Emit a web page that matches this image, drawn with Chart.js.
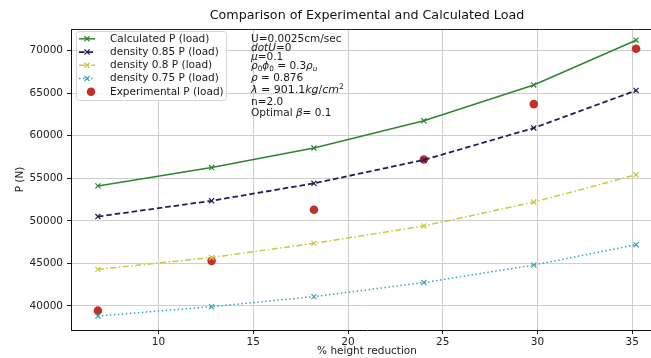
<!DOCTYPE html>
<html>
<head>
<meta charset="utf-8">
<script src="https://cdn.jsdelivr.net/npm/chart.js@4.4.1/dist/chart.umd.min.js"></script>
<style>
  html, body { margin: 0; padding: 0; background: #fff; overflow: hidden; width: 651px; height: 358px; }
  #wrap { position: absolute; left: 0; top: 0; width: 700px; height: 358px; }
</style>
</head>
<body>
<div id="wrap"><canvas id="c" width="700" height="358"></canvas></div>
<script>
// % height reduction of the specimen
const heightReduction = [6.8, 12.8, 18.2, 24.0, 29.8, 35.2];
// Load P (N)
const calculatedP   = [54100, 56250, 58550, 61750, 65950, 71200];
const density085P   = [50500, 52350, 54400, 57150, 60900, 65300];
const density080P   = [44300, 45700, 47350, 49400, 52200, 55400];
const density075P   = [38820, 39920, 41100, 42750, 44800, 47200];
const experimentalP = [39450, 45300, 51300, 57200, 63700, 70200];

const xTicks = [10, 15, 20, 25, 30, 35];
const yTicks = [40000, 45000, 50000, 55000, 60000, 65000, 70000];

const titleText = 'Comparison of Experimental and Calculated Load';
const xLabel = '% height reduction';
const yLabel = 'P (N)';

// process parameters printed beside the legend; each line is a list of text runs
const conditionLines = [
  [{t: 'U=0.0025cm/sec'}],
  [{t: 'dotU', it: true}, {t: '=0'}],
  [{t: 'μ', it: true}, {t: '=0.1'}],
  [{t: 'ρ', it: true}, {t: '0', sub: true}, {t: 'ϕ', it: true}, {t: '0', sub: true}, {t: ' = 0.3'}, {t: 'ρ', it: true}, {t: 'u', it: true, sub: true}],
  [{t: 'ρ', it: true}, {t: ' = 0.876'}],
  [{t: 'λ', it: true}, {t: ' = 901.1'}, {t: 'kg', it: true}, {t: '/'}, {t: 'cm', it: true}, {t: '2', sup: true}],
  [{t: 'n=2.0'}],
  [{t: 'Optimal '}, {t: 'β', it: true}, {t: '= 0.1'}]
];
const conditionY = [39.5, 48.5, 57.5, 66.5, 78, 90.5, 102.5, 113];

const FONT = '"DejaVu Sans", "Liberation Sans", sans-serif';

const toPoints = (ys) => heightReduction.map((x, i) => ({x: x, y: ys[i]}));

const lineSets = [
  {label: 'Calculated P (load)', data: toPoints(calculatedP), color: '#2f852f', dash: [], width: 1.5},
  {label: 'density 0.85 P (load)', data: toPoints(density085P), color: '#1f1f58', dash: [5.5, 3], width: 1.8},
  {label: 'density 0.8 P (load)', data: toPoints(density080P), color: '#c9c93c', dash: [6, 2.5, 1.5, 2.5], width: 1.5},
  {label: 'density 0.75 P (load)', data: toPoints(density075P), color: '#3aa6b0', dash: [1.5, 2.5], width: 1.5}
];

const datasets = lineSets.map(s => ({
  label: s.label,
  data: s.data,
  showLine: true,
  borderColor: s.color,
  backgroundColor: s.color,
  borderWidth: s.width,
  borderDash: s.dash,
  pointStyle: 'crossRot',
  pointRadius: 3.6,
  pointBorderWidth: 1.2,
  pointBorderColor: s.color,
  tension: 0,
  fill: false
}));
datasets.push({
  label: 'Experimental P (load)',
  data: toPoints(experimentalP),
  showLine: false,
  pointStyle: 'circle',
  pointRadius: 4.3,
  pointBorderWidth: 0,
  backgroundColor: '#c2302a',
  borderColor: '#c2302a'
});

function drawRuns(ctx, runs, x, y, size) {
  let cx = x;
  ctx.textBaseline = 'middle';
  ctx.textAlign = 'left';
  runs.forEach(r => {
    let fs = size, dy = 0;
    if (r.sub) { fs = size * 0.7; dy = 2.6; }
    if (r.sup) { fs = size * 0.7; dy = -3.6; }
    ctx.font = (r.it ? 'italic ' : '') + fs + 'px ' + FONT;
    ctx.fillText(r.t, cx, y + dy);
    cx += ctx.measureText(r.t).width;
  });
}

const decorations = {
  id: 'decorations',
  afterDraw(chart) {
    const ctx = chart.ctx;
    const area = chart.chartArea;
    ctx.save();

    // top spine
    ctx.strokeStyle = '#222';
    ctx.lineWidth = 1;
    ctx.beginPath();
    ctx.moveTo(area.left, area.top + 0.5);
    ctx.lineTo(area.right, area.top + 0.5);
    ctx.stroke();

    // title
    ctx.fillStyle = '#111';
    ctx.font = '12.7px ' + FONT;
    ctx.textAlign = 'center';
    ctx.textBaseline = 'middle';
    ctx.fillText(titleText, (area.left + area.right) / 2, 16);

    // legend
    const bx = 76.5, by = 31.5, bw = 150, bh = 69;
    ctx.beginPath();
    ctx.roundRect(bx, by, bw, bh, 3);
    ctx.fillStyle = 'rgba(255,255,255,0.85)';
    ctx.fill();
    ctx.strokeStyle = '#d4d4d4';
    ctx.lineWidth = 1;
    ctx.stroke();

    chart.data.datasets.forEach((ds, i) => {
      const y = 38.8 + i * 13.25;
      ctx.save();
      if (ds.showLine) {
        ctx.strokeStyle = ds.borderColor;
        ctx.lineWidth = ds.borderWidth;
        ctx.setLineDash(ds.borderDash);
        ctx.beginPath();
        ctx.moveTo(79, y);
        ctx.lineTo(95, y);
        ctx.stroke();
        ctx.setLineDash([]);
        ctx.strokeStyle = ds.pointBorderColor;
        ctx.lineWidth = ds.pointBorderWidth;
        Chart.helpers.drawPoint(ctx, {pointStyle: ds.pointStyle, radius: ds.pointRadius, borderWidth: ds.pointBorderWidth}, 87, y);
      } else {
        ctx.fillStyle = ds.backgroundColor;
        ctx.beginPath();
        ctx.arc(91, y, ds.pointRadius, 0, Math.PI * 2);
        ctx.fill();
      }
      ctx.restore();
      ctx.fillStyle = '#1a1a1a';
      ctx.font = '10.5px ' + FONT;
      ctx.textAlign = 'left';
      ctx.textBaseline = 'middle';
      ctx.fillText(ds.label, 110, y);
    });

    // process parameters
    ctx.fillStyle = '#1a1a1a';
    conditionLines.forEach((runs, i) => {
      drawRuns(ctx, runs, 251, conditionY[i], i === 5 ? 11 : 10.5);
    });

    ctx.restore();
  }
};

new Chart(document.getElementById('c'), {
  type: 'scatter',
  data: {datasets: datasets},
  plugins: [decorations],
  options: {
    responsive: false,
    animation: false,
    events: [],
    layout: {padding: {left: 0, right: 37, top: 29, bottom: 0}},
    plugins: {legend: {display: false}, tooltip: {enabled: false}, title: {display: false}},
    scales: {
      x: {
        type: 'linear',
        min: 5.38,
        max: 36.62,
        afterBuildTicks: (s) => { s.ticks = xTicks.map(v => ({value: v})); },
        afterFit: (s) => { s.height = 28; },
        grid: {color: '#cfcfcf', lineWidth: 1, drawTicks: true, tickLength: 4, tickColor: '#222'},
        border: {display: true, color: '#111', width: 1},
        ticks: {color: '#222', font: {family: FONT, size: 10.5}, padding: 2, maxRotation: 0},
        title: {display: true, text: xLabel, color: '#222', font: {family: FONT, size: 10.5}, padding: {top: 0, bottom: 0}}
      },
      y: {
        type: 'linear',
        min: 37180,
        max: 72520,
        afterBuildTicks: (s) => { s.ticks = yTicks.map(v => ({value: v})); },
        afterFit: (s) => { s.width = 71; },
        grid: {color: '#cfcfcf', lineWidth: 1, drawTicks: true, tickLength: 4, tickColor: '#222'},
        border: {display: true, color: '#111', width: 1},
        ticks: {color: '#222', font: {family: FONT, size: 10.5}, padding: 4, callback: (v) => String(v)},
        title: {display: true, text: yLabel, color: '#222', font: {family: FONT, size: 10.5}, padding: {top: 14.4, bottom: 0}}
      }
    }
  }
});
</script>
</body>
</html>
